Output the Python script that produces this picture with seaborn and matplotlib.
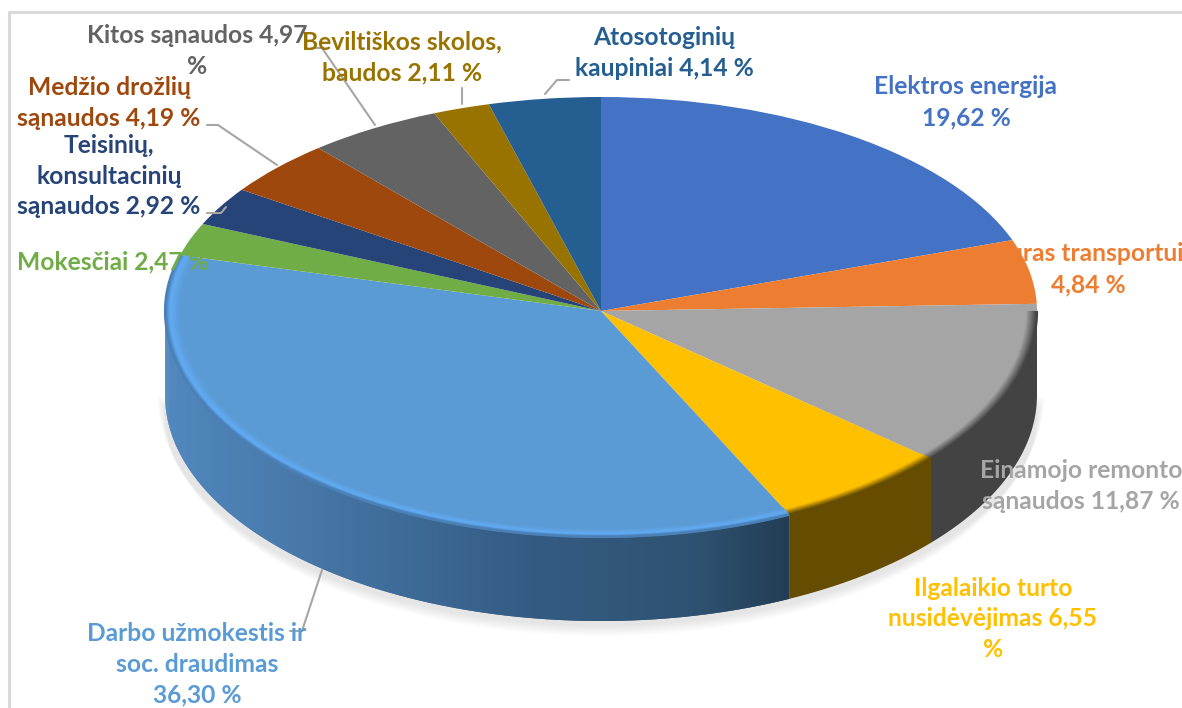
import numpy as np
import matplotlib
matplotlib.use("Agg")
import matplotlib.pyplot as plt
from matplotlib.lines import Line2D
from matplotlib.colors import to_rgb
import seaborn as sns

sns.set_theme(style="white")
plt.rcParams['font.family'] = ['Lato', 'DejaVu Sans']

# ---- data ----
labels = ["Elektros energija\n19,62 %", "Kuras transportui\n4,84 %",
          "Einamojo remonto\nsąnaudos 11,87 %", "Ilgalaikio turto\nnusidėvėjimas 6,55\n%",
          "Darbo užmokestis ir\nsoc. draudimas\n36,30 %", "Mokesčiai 2,47 %",
          "Teisinių,\nkonsultacinių\nsąnaudos 2,92 %", "Medžio drožlių\nsąnaudos 4,19 %",
          "Kitos sąnaudos 4,97\n%", "Beviltiškos skolos,\nbaudos 2,11 %",
          "Atosotoginių\nkaupiniai 4,14 %"]
values = [19.62, 4.84, 11.87, 6.55, 36.30, 2.47, 2.92, 4.19, 4.97, 2.11, 4.14]
colors = ["#4472c4", "#ed7d31", "#a5a5a5", "#ffc000", "#5b9bd5", "#70ad47",
          "#264478", "#9e480e", "#636363", "#997300", "#255e91"]
text_colors = colors
label_pos = [(966, 102), (1088, 269), (1081, 486), (993, 619), (197, 664), (113, 262),
             (109, 176), (109, 103), (197, 51), (402, 57), (664, 53)]
leaders = [[(312, 48), (322, 48), (375, 125)],
           [(462, 88), (462, 104)],
           [(569, 80), (557, 80), (545, 94)],
           [(207, 125), (218, 125), (277, 165)],
           [(207, 213), (221, 213), (226, 207)],
           [(290, 631), (302, 631), (322, 570)]]
side_colors = {2: "#434343", 3: "#654c00"}
blue_side_stops = [(165, "#5188bf"), (300, "#4778a8"), (520, "#345c84"), (700, "#2e5170"), (790, "#223c54")]

W, H = 1182, 708
CX, CY, RX, RY_UP, RY_DOWN, DEPTH = 601, 311, 436, 214, 226, 84

fig = plt.figure(figsize=(W / 100, H / 100), dpi=100, facecolor="white")
ax = fig.add_axes([0, 0, 1, 1])


def fwd(y):
    y = np.asarray(y, dtype=float)
    return np.where(y > 0, y * RY_UP, y * RY_DOWN)


def inv(v):
    v = np.asarray(v, dtype=float)
    return np.where(v > 0, v / RY_UP, v / RY_DOWN)


wedges, _ = ax.pie(values, colors=colors, startangle=90, counterclock=False, radius=1.0,
                   wedgeprops=dict(linewidth=0))
for w in wedges:
    w.set_zorder(5)
ax.set_yscale("function", functions=(fwd, inv))
ax.set_aspect("auto")
ax.set_xlim((0 - CX) / RX, (W - CX) / RX)
ax.set_ylim((CY - H) / RY_DOWN, CY / RY_UP)
ax.axis("off")

fracs = np.array(values) / sum(values) * 360
edges = np.concatenate([[0], np.cumsum(fracs)])
d = DEPTH / RY_DOWN


def pt(theta, r=1.0, dy=0.0):
    t = np.radians(theta)
    return r * np.sin(t), r * np.cos(t) - dy


def mix(a, b, t):
    a, b = np.array(to_rgb(a)), np.array(to_rgb(b))
    return tuple(a + (b - a) * t)


def blue_side(xn):
    px = CX + RX * xn
    xs = [s[0] for s in blue_side_stops]
    cs = np.array([to_rgb(s[1]) for s in blue_side_stops])
    return tuple(np.interp(px, xs, cs[:, i]) for i in range(3))


# soft shadow beneath the disc
th = np.linspace(90, 270, 181)
n_sh = 26
for k in range(n_sh):
    r = 1.0 + 0.0007 * k
    sx, sy = pt(th, r=r, dy=d + (n_sh - k) * 0.6 / RY_DOWN)
    ax.fill(sx, np.minimum(sy, 0), color="#000000", alpha=0.005, lw=0, zorder=1)

# extruded side wall: flat slices as one polygon, the blue one in overlapping narrow bands
for i, c in enumerate(colors):
    a0, a1 = max(edges[i], 90), min(edges[i + 1], 270)
    if a1 <= a0:
        continue
    if i == 4:
        ths = np.linspace(a1, a0, int((a1 - a0) / 0.5) + 1)
        for t0, t1 in zip(ths[:-1], ths[1:]):
            seg = np.linspace(t0, max(t1 - 0.5, a0), 3)
            x0, y0 = pt(seg)
            x1, y1 = pt(seg[::-1], dy=d)
            col = blue_side(np.sin(np.radians((t0 + t1) / 2)))
            ax.fill(np.r_[x0, x1], np.r_[y0, y1], color=col, lw=0, zorder=3)
    else:
        seg = np.linspace(a0, a1, 60)
        x0, y0 = pt(seg)
        x1, y1 = pt(seg[::-1], dy=d)
        ax.fill(np.r_[x0, x1], np.r_[y0, y1], color=side_colors.get(i, mix(c, "#000000", 0.45)),
                lw=0, zorder=3 + i * 0.01)

# bevel along the rim of the top face
rim_n = 18
for i, c in enumerate(colors):
    a0, a1 = edges[i], edges[i + 1]
    if i == 4:
        side, hi, split = "#4a80b6", "#62acf4", 0.3
    elif i in side_colors:
        side, hi, split = side_colors[i], c, 0.75
    else:
        continue
    ths = np.linspace(max(a0, 90), a1, 200)
    for k in range(rim_n, -1, -1):
        t = k / rim_n
        col = mix(side, hi, t / split) if t < split else mix(hi, c, (t - split) / (1 - split))
        x, y = pt(ths, r=1 - t * 0.032)
        ax.plot(x, y, color=col, lw=1.6, solid_capstyle="butt", zorder=6)

# frame of the original picture
fig.add_artist(Line2D([9 / W, 9 / W, 1], [0, 1 - 12 / H, 1 - 12 / H], color="#d9d9d9", lw=2.2))

# leader lines
for pts in leaders:
    xs = [p[0] / W for p in pts]
    ys = [1 - p[1] / H for p in pts]
    fig.add_artist(Line2D(xs, ys, color="#a6a6a6", lw=1.5, zorder=8))

# labels
for lab, (x, y), c in zip(labels, label_pos, text_colors):
    fig.text(x / W, 1 - y / H, lab, color=c, ha="center", va="center", fontsize=17.7,
             fontweight="bold", linespacing=1.42, zorder=9, multialignment="center")

fig.savefig("out.png", dpi=100, facecolor="white")
